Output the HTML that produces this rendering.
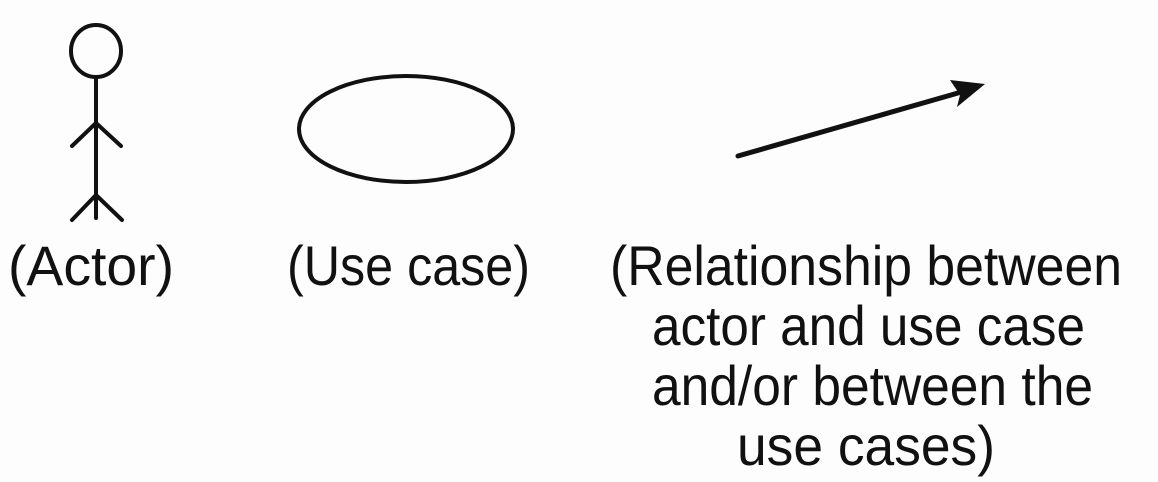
<!DOCTYPE html>
<html><head><style>
html,body{margin:0;padding:0;background:#fdfdfd;}
svg{display:block;}
text{font-family:"Liberation Sans",Arial,sans-serif;font-size:56px;fill:#111;}
</style></head><body>
<svg width="1158" height="482" viewBox="0 0 1158 482" xmlns="http://www.w3.org/2000/svg">
<g stroke="#111" stroke-width="4" fill="none" stroke-linecap="round">
<ellipse cx="96" cy="51" rx="25" ry="26"/>
<line x1="96" y1="77" x2="96" y2="218"/>
<line x1="72" y1="146" x2="96" y2="123"/>
<line x1="121" y1="146" x2="96" y2="123"/>
<line x1="72" y1="220" x2="96" y2="195"/>
<line x1="122" y1="220" x2="96" y2="195"/>
<ellipse cx="406" cy="129" rx="107" ry="53"/>
<line x1="738" y1="156" x2="965" y2="91" stroke-width="5"/>
</g>
<polygon points="985,84 950,80 960,95 957,107" fill="#111"/>
<text x="8" y="285" textLength="166" lengthAdjust="spacingAndGlyphs">(Actor)</text>
<text x="287" y="285" textLength="243" lengthAdjust="spacingAndGlyphs">(Use case)</text>
<text x="610" y="285" textLength="512" lengthAdjust="spacingAndGlyphs">(Relationship between</text>
<text x="652" y="345" textLength="433" lengthAdjust="spacingAndGlyphs">actor and use case</text>
<text x="652" y="405" textLength="441" lengthAdjust="spacingAndGlyphs">and/or between the</text>
<text x="737" y="465" textLength="258" lengthAdjust="spacingAndGlyphs">use cases)</text>
</svg>
</body></html>
